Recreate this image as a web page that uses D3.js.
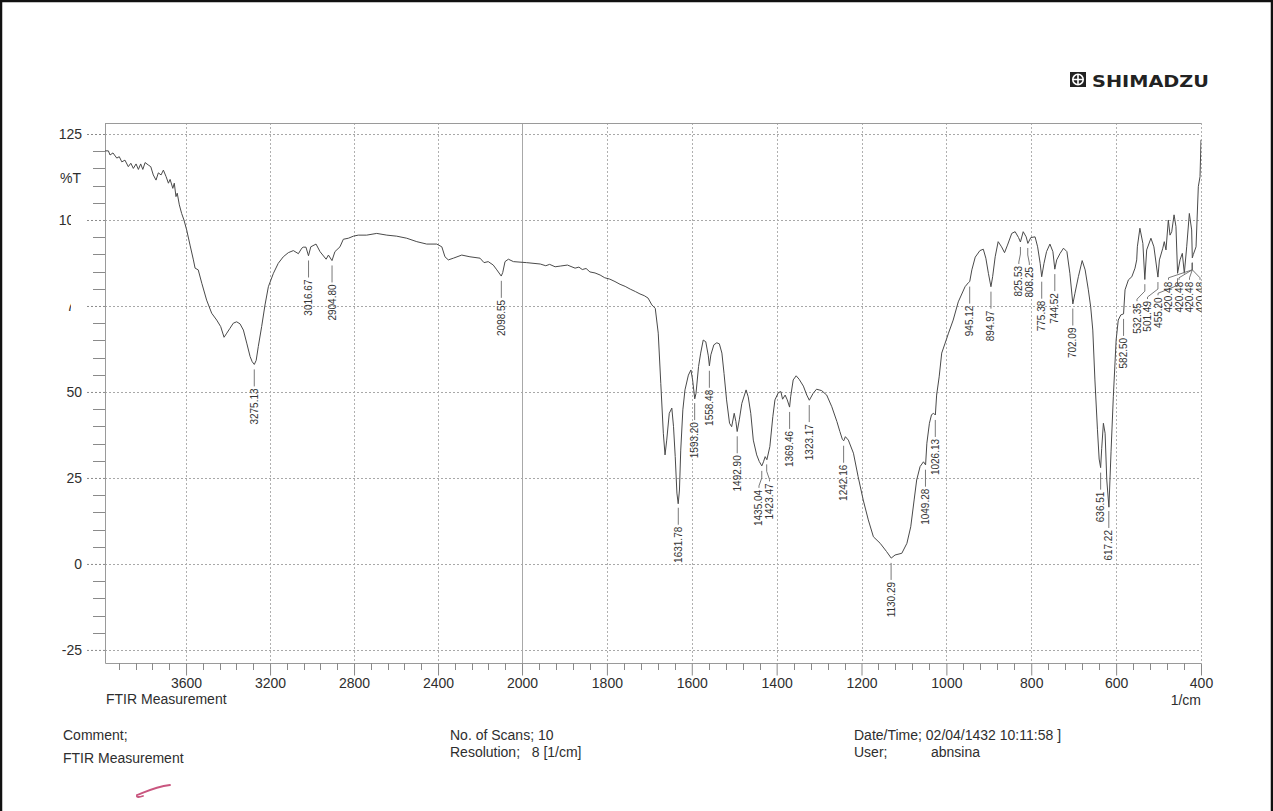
<!DOCTYPE html>
<html>
<head>
<meta charset="utf-8">
<script src="https://cdn.jsdelivr.net/npm/d3@7"></script>
<style>
  html, body { margin: 0; padding: 0; background: #fff; }
  svg { display: block; font-family: "Liberation Sans", Arial, sans-serif; }
</style>
</head>
<body>
<svg id="chart" width="1273" height="811"></svg>
<script>
// ---- Spectrum: wavenumber (1/cm) and transmittance (%T) ----
const wavenumber = [
  3986, 3970, 3962, 3948, 3930, 3918, 3906, 3891, 3875, 3863, 3851, 3838, 3827, 3816, 3806, 3795,
  3780, 3768, 3756, 3743, 3732, 3719, 3708, 3695, 3684, 3676, 3663, 3656, 3648, 3642, 3632, 3621,
  3610, 3597, 3581, 3565, 3557, 3542, 3525, 3502, 3478, 3454, 3435, 3419, 3406, 3391, 3375, 3359,
  3343, 3327, 3311, 3295, 3285, 3275, 3266, 3256, 3240, 3224, 3208, 3184, 3161, 3137, 3113, 3089,
  3065, 3049, 3042, 3029, 3017, 3006, 2981, 2962, 2933, 2922, 2905, 2891, 2867, 2851, 2827, 2803,
  2780, 2740, 2692, 2644, 2597, 2549, 2501, 2454, 2406, 2382, 2367, 2351, 2327, 2287, 2248, 2200,
  2181, 2161, 2137, 2120, 2099, 2092, 2081, 2065, 2041, 1989, 1957, 1944, 1935, 1922, 1910, 1893,
  1875, 1866, 1858, 1849, 1840, 1828, 1816, 1805, 1793, 1781, 1769, 1757, 1745, 1733, 1722, 1712,
  1703, 1694, 1686, 1679, 1673, 1667, 1663, 1659, 1653, 1647,
  1643, 1639, 1635, 1632, 1629, 1626, 1621, 1616, 1608, 1602, 1598, 1593, 1590, 1584, 1579, 1573,
  1567, 1561, 1558.5, 1555, 1548, 1541, 1535, 1529, 1524, 1518, 1511, 1506, 1500, 1496, 1493, 1488,
  1482, 1472, 1467, 1461, 1455, 1447, 1441, 1435, 1431, 1427, 1423, 1416, 1409, 1404, 1396, 1390,
  1386, 1380, 1375, 1369.5, 1367, 1361, 1354, 1347, 1337, 1329, 1323, 1314, 1306, 1294, 1282, 1270,
  1258, 1251, 1245, 1242, 1238, 1231, 1219, 1208, 1196, 1184, 1172, 1156, 1141, 1130, 1121, 1105,
  1093, 1084, 1076, 1070, 1062, 1054, 1049, 1046, 1040, 1035, 1030, 1026, 1023, 1017, 1011, 1003,
  995, 984, 972, 956, 948, 945, 940, 932, 921, 913, 907, 901, 895, 891, 885, 878,
  870, 863, 856, 846, 838, 830, 825.5, 819, 812, 808, 801, 791, 785, 779, 775.4, 770,
  764, 756, 749, 744.5, 740, 732, 724, 716, 709, 702, 697, 689, 680, 673, 665.5, 660,
  655, 650, 644, 640, 636.5, 634, 630, 626, 622, 617, 612, 606.6, 600, 595, 589, 582.5,
  579, 571, 563, 555.5, 551.5, 550, 544, 537, 532.4, 528, 518, 511, 501.5, 498, 490, 486.5,
  482.5, 477, 473, 469, 463.5, 459, 455.2, 449.4, 444, 439.3, 433.7, 427.5, 422, 420.5, 418, 411.7,
  406.3, 402.3, 400
];
const transmittance = [
  120.1, 120.1, 118.9, 119.5, 118.0, 118.4, 116.9, 117.4, 115.5, 116.5, 115.0, 116.3, 114.7, 116.3, 114.7, 116.7,
  116.0, 115.5, 113.1, 111.6, 113.7, 113.1, 114.5, 112.6, 110.7, 111.8, 109.2, 110.7, 106.8, 107.8, 104.4, 101.9,
  100.0, 97.1, 92.7, 88.4, 86.0, 85.5, 81.6, 76.7, 72.9, 70.9, 69.0, 65.9, 67.1, 68.5, 70.0, 70.4,
  69.8, 68.0, 64.2, 60.3, 58.8, 58.0, 59.2, 63.2, 69.0, 75.3, 80.6, 84.5, 87.4, 89.3, 90.5, 91.1,
  90.2, 91.8, 92.1, 92.1, 89.6, 92.2, 93.0, 90.8, 88.6, 89.8, 88.2, 90.8, 92.2, 94.4, 94.7, 95.3,
  95.6, 95.6, 96.1, 95.6, 95.3, 94.7, 93.7, 93.0, 93.0, 92.2, 89.3, 88.4, 88.9, 89.8, 89.3, 88.9,
  87.6, 87.9, 86.9, 85.5, 83.7, 84.7, 87.9, 88.6, 87.9, 87.6, 87.2, 86.7, 87.1, 86.4, 86.6, 86.9,
  86.0, 86.3, 85.6, 85.9, 84.9, 84.6, 84.0, 83.2, 82.8, 82.1, 81.3, 80.7, 79.9, 79.2, 78.5, 78.0,
  77.3, 75.3, 74.3, 67.1, 52.5, 38.0, 31.7, 36.0, 43.8, 45.3,
  39.9, 31.2, 20.6, 17.5, 21.5, 33.1, 44.8, 50.6, 54.9, 56.4, 53.5, 48.0, 49.6, 57.4, 61.3, 65.1,
  64.6, 60.5, 57.6, 60.8, 63.7, 64.3, 64.0, 61.3, 55.4, 47.7, 40.9, 39.9, 43.8, 41.4, 38.5, 41.9,
  46.7, 50.6, 48.6, 43.8, 36.0, 31.7, 29.8, 28.5, 29.7, 31.2, 30.3, 34.1, 42.8, 47.7, 49.8, 50.1,
  47.9, 49.1, 47.7, 45.6, 48.6, 53.5, 54.7, 53.7, 51.7, 49.1, 47.6, 49.6, 50.8, 50.4, 49.1, 45.7,
  41.4, 38.5, 36.2, 35.8, 37.0, 36.0, 32.2, 25.4, 18.6, 12.8, 7.9, 6.0, 3.6, 1.7, 2.6, 3.1,
  6.0, 10.8, 18.6, 24.4, 28.3, 29.7, 28.8, 35.1, 40.9, 43.4, 43.8, 43.3, 49.1, 54.4, 61.3, 64.2,
  67.1, 70.9, 76.2, 80.6, 81.8, 82.1, 85.5, 89.2, 91.1, 91.5, 88.9, 84.5, 80.6, 83.5, 89.3, 93.7,
  92.2, 90.5, 92.7, 96.1, 96.6, 94.9, 93.6, 96.6, 95.1, 93.2, 94.9, 95.1, 92.2, 87.4, 83.5, 87.4,
  90.8, 93.0, 90.8, 85.7, 88.4, 90.3, 91.8, 90.8, 84.5, 75.6, 78.7, 83.5, 88.2, 85.5, 79.7, 74.8,
  68.0, 53.5, 39.0, 30.5, 28.0, 33.5, 40.9, 38.0, 24.4, 16.5, 32.6, 48.6, 65.1, 70.9, 72.4, 72.7,
  79.7, 82.6, 83.5, 86.0, 88.4, 92.2, 97.6, 93.2, 82.7, 91.3, 94.7, 92.2, 83.4, 88.4, 91.8, 93.7,
  91.3, 100.0, 95.6, 96.6, 101.5, 98.1, 84.5, 88.4, 90.3, 84.5, 92.2, 101.9, 97.1, 89.0, 90.0, 92.2,
  109.7, 112.6, 123.3
];

// ---- Picked peaks (1/cm) ----
const peakPositions = [
  3275.13, 3016.67, 2904.80, 2098.55, 1631.78, 1593.20, 1558.48, 1492.90, 1435.04, 1423.47,
  1369.46, 1323.17, 1242.16, 1130.29, 1049.28, 1026.13, 945.12, 894.97, 825.53, 808.25,
  775.38, 744.52, 702.09, 636.51, 617.22, 582.50, 532.35, 501.49, 455.20,
  420.48, 420.48, 420.48, 420.48
];

// ---- Axis ticks ----
const xTickValues = [3600, 3200, 2800, 2400, 2000, 1800, 1600, 1400, 1200, 1000, 800, 600, 400];
const yTickValues = [125, 100, 75, 50, 25, 0, -25];
const yTickLabels = ["125", "100", "75", "50", "25", "0", "-25"];

// ---- Layout ----
const plot = { left: 105, right: 1201, top: 123, bottom: 663 };
const splitX = plot.left + (plot.right - plot.left) * 0.3805; // 4000-2000 region drawn at half scale
const svg = d3.select("#chart");
const ink = "#2e2e2e";

const x = d3.scaleLinear().domain([3986, 2000, 400]).range([plot.left, splitX, plot.right]);
const y = d3.scaleLinear().domain([-28.8, 128.2]).range([plot.bottom, plot.top]);

const spectrum = wavenumber.map((w, i) => ({ w, t: transmittance[i] }));

// page border
svg.append("path")
  .attr("d", `M1,811 V1 H1272 V811`)
  .attr("fill", "none").attr("stroke", "#111").attr("stroke-width", 2.5);

// clip region for the plot
svg.append("defs").append("clipPath").attr("id", "plotClip")
  .append("rect")
  .attr("x", plot.left).attr("y", plot.top)
  .attr("width", plot.right - plot.left + 0.5).attr("height", plot.bottom - plot.top);

// ---- Grid ----
const grid = svg.append("g");
grid.selectAll("line.hgrid").data(yTickValues).join("line")
  .attr("x1", plot.left).attr("x2", plot.right)
  .attr("y1", d => Math.round(y(d)) + 0.5).attr("y2", d => Math.round(y(d)) + 0.5)
  .attr("stroke", "#a8a8a8").attr("stroke-dasharray", "2,2");
grid.selectAll("line.vgrid").data(xTickValues).join("line")
  .attr("x1", d => Math.round(x(d)) + 0.5).attr("x2", d => Math.round(x(d)) + 0.5)
  .attr("y1", plot.top).attr("y2", plot.bottom)
  .attr("stroke", d => d === 2000 ? "#a8a8a8" : "#b0b0b0")
  .attr("stroke-dasharray", d => d === 2000 ? null : "2,2");

// frame (left, bottom, top)
svg.append("path")
  .attr("d", `M${plot.left + 0.5},${plot.top + 0.5} V${plot.bottom + 0.5} H${plot.right + 0.5} M${plot.left},${plot.top + 0.5} H${plot.right}`)
  .attr("fill", "none").attr("stroke", "#9a9a9a");

// ---- X axis ----
const xAxis = svg.append("g")
  .attr("transform", `translate(0,${plot.bottom + 0.5})`)
  .call(d3.axisBottom(x).tickValues(xTickValues).tickSize(12).tickPadding(3).tickFormat(d3.format("d")));
xAxis.select(".domain").remove();
xAxis.selectAll(".tick line").attr("stroke", "#8a8a8a");
xAxis.selectAll(".tick text").attr("font-size", 14).attr("fill", ink)
  .attr("font-family", "Liberation Sans, Arial, sans-serif");

const xMinor = d3.range(3920, 2000, -80).concat(d3.range(1960, 400, -40))
  .filter(v => !xTickValues.includes(v));
svg.append("g").selectAll("line").data(xMinor).join("line")
  .attr("x1", d => Math.round(x(d)) + 0.5).attr("x2", d => Math.round(x(d)) + 0.5)
  .attr("y1", plot.bottom).attr("y2", plot.bottom + 7)
  .attr("stroke", "#8a8a8a");

// ---- Y axis ----
const yAxis = svg.append("g")
  .attr("transform", `translate(${plot.left},0)`)
  .call(d3.axisLeft(y).tickValues(yTickValues).tickSize(19).tickPadding(4)
    .tickFormat((d, i) => yTickLabels[i]));
yAxis.select(".domain").remove();
yAxis.selectAll(".tick line").attr("stroke", "#8a8a8a").attr("stroke-dasharray", "2,2");
yAxis.selectAll(".tick text").attr("font-size", 14).attr("fill", ink)
  .attr("font-family", "Liberation Sans, Arial, sans-serif");

const yMinor = d3.range(-25, 126, 5).filter(v => v % 25 !== 0);
svg.append("g").selectAll("line").data(yMinor).join("line")
  .attr("x1", plot.left - 12).attr("x2", plot.left)
  .attr("y1", d => Math.round(y(d)) + 0.5).attr("y2", d => Math.round(y(d)) + 0.5)
  .attr("stroke", "#8a8a8a");

// faded print on two tick labels
svg.append("rect").attr("x", 71).attr("y", y(100) - 11).attr("width", 14).attr("height", 20).attr("fill", "#fff");
svg.append("rect").attr("x", 62).attr("y", y(75) - 12).attr("width", 23).attr("height", 9).attr("fill", "#fff");
svg.append("rect").attr("x", 71).attr("y", y(75) - 4).attr("width", 14).attr("height", 12).attr("fill", "#fff");

svg.append("text").attr("x", 81).attr("y", 183).attr("text-anchor", "end")
  .attr("font-size", 14).attr("fill", ink).text("%T");

// ---- Spectrum ----
const curve = svg.append("g").attr("clip-path", "url(#plotClip)");
curve.append("path")
  .datum(spectrum)
  .attr("d", d3.line().x(d => x(d.w)).y(d => y(d.t)))
  .attr("fill", "none").attr("stroke", "#4a4a4a").attr("stroke-width", 1)
  .attr("stroke-linejoin", "round");

// ---- Peak labels ----
const bis = d3.bisector(d => -d.w).left;
function tAt(w) {
  const i = Math.max(1, Math.min(spectrum.length - 1, bis(spectrum, -w)));
  const a = spectrum[i - 1], b = spectrum[i];
  const f = (a.w - w) / (a.w - b.w);
  return a.t + (b.t - a.t) * f;
}

// spread crowded labels sideways so their texts do not overlap
const gap = 10.5;
const maxLabelX = plot.right - 1;
let items = peakPositions.map((w, i) => ({ w, i, px: x(w) })).sort((a, b) => a.px - b.px);
let clusters = items.map(it => ({ members: [it] }));
function clusterStart(c) {
  const n = c.members.length;
  const center = d3.mean(c.members, m => m.px);
  return Math.min(center - (n - 1) * gap / 2, maxLabelX - (n - 1) * gap);
}
let merged = true;
while (merged) {
  merged = false;
  for (let k = 0; k < clusters.length - 1; k++) {
    const a = clusters[k], b = clusters[k + 1];
    const aEnd = clusterStart(a) + (a.members.length - 1) * gap;
    if (clusterStart(b) - aEnd < gap - 0.01) {
      clusters.splice(k, 2, { members: a.members.concat(b.members) });
      merged = true;
      break;
    }
  }
}
clusters.forEach(c => {
  const s = clusterStart(c);
  c.members.forEach((m, j) => { m.tx = s + j * gap; });
});

const labels = svg.append("g").attr("clip-path", "url(#plotClip)");
items.forEach(it => {
  const yc = y(tAt(it.w));
  const straight = Math.abs(it.tx - it.px) < 1.5;
  const pts = straight
    ? [[it.px, yc + 5], [it.px, yc + 22]]
    : [[it.px, yc + 5], [it.px, yc + 12], [it.tx, yc + 20], [it.tx, yc + 22]];
  const lx = straight ? it.px : it.tx;
  labels.append("path")
    .attr("d", d3.line()(pts))
    .attr("fill", "none").attr("stroke", "#6a6a6a").attr("stroke-width", 0.9);
  labels.append("text")
    .attr("transform", `translate(${lx},${yc + 24}) rotate(-90)`)
    .attr("text-anchor", "end").attr("dy", "0.35em")
    .attr("font-size", 10).attr("fill", "#333")
    .text(it.w.toFixed(2));
});

// ---- Titles and page text ----
svg.append("text").attr("x", plot.right).attr("y", 705).attr("text-anchor", "end")
  .attr("font-size", 14).attr("fill", ink).text("1/cm");
svg.append("text").attr("x", plot.left + 1).attr("y", 704)
  .attr("font-size", 14).attr("fill", ink).text("FTIR Measurement");

const info = [
  { x: 63, y: 740, t: "Comment;" },
  { x: 63, y: 763, t: "FTIR Measurement" },
  { x: 450, y: 740, t: "No. of Scans; 10" },
  { x: 450, y: 757, t: "Resolution;   8 [1/cm]" },
  { x: 854, y: 740, t: "Date/Time; 02/04/1432 10:11:58 ]" },
  { x: 854, y: 757, t: "User;" },
  { x: 931, y: 757, t: "abnsina" }
];
svg.append("g").selectAll("text").data(info).join("text")
  .attr("x", d => d.x).attr("y", d => d.y)
  .attr("font-size", 14).attr("fill", ink)
  .style("white-space", "pre").attr("xml:space", "preserve")
  .text(d => d.t);

// ---- Manufacturer mark ----
const logo = svg.append("g").attr("transform", "translate(1070,72)");
logo.append("rect").attr("width", 16).attr("height", 15).attr("fill", "#222");
logo.append("circle").attr("cx", 8).attr("cy", 7.5).attr("r", 5.2)
  .attr("fill", "none").attr("stroke", "#fff").attr("stroke-width", 1.6);
logo.append("path").attr("d", "M8,2.3 V12.7 M2.8,7.5 H13.2")
  .attr("stroke", "#fff").attr("stroke-width", 1.6);
svg.append("text").attr("x", 1092).attr("y", 86.5)
  .attr("font-size", 16.5).attr("font-weight", "bold").attr("fill", "#222")
  .attr("font-family", "DejaVu Sans, Liberation Sans, sans-serif")
  .attr("textLength", 117).attr("lengthAdjust", "spacingAndGlyphs")
  .text("SHIMADZU");

// ink check mark
svg.append("path")
  .attr("d", "M137,795 C145,792 155,787 170,785 M137,795 C136,798 140,797 143,796")
  .attr("fill", "none").attr("stroke", "#c9567f").attr("stroke-width", 1.8)
  .attr("stroke-linecap", "round");
</script>
</body>
</html>
